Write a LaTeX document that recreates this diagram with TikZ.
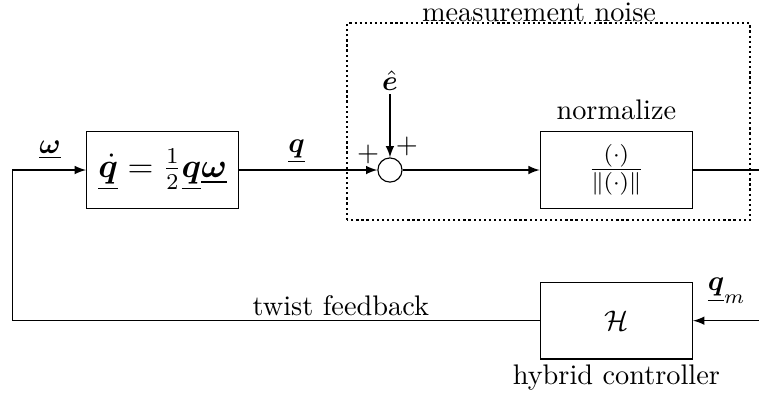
\documentclass[tikz,border=0pt]{standalone}
\usepackage{amsmath,bm}
\usetikzlibrary{arrows}
\tikzset{
    blk/.style={draw, minimum width=1.89cm, minimum height=0.95cm},
    sumnode/.style={draw, circle, minimum size=0.3cm, inner sep=0pt},
}
\begin{document}
\begin{tikzpicture}[>=latex]
    \useasboundingbox (0,0) rectangle (9.42,4.96);
    % blocks
    \node[blk, font=\large] (kin) at (2.02,2.85) {$\underline{\dot{\bm q}} = \tfrac{1}{2}\underline{\bm q}\underline{\bm\omega}$};
    \node[sumnode] (sum) at (4.84,2.85) {};
    \node[blk, font=\large] (norm) at (7.65,2.85) {$\frac{(\cdot)}{\|(\cdot)\|}$};
    \node[blk] (ctrl) at (7.65,0.98) {$\mathcal{H}$};
    \node[inner sep=1pt] (noise) at (4.84,3.96) {$\hat{\bm e}$};
    \coordinate (out) at (9.42,2.85);
    \coordinate (qm) at (9.42,0.98);
    \coordinate (fbl) at (0.15,0.98);
    \coordinate (fbu) at (0.15,2.85);
    % measurement noise box
    \draw[densely dotted, thick] (4.31,2.23) rectangle (9.31,4.67);
    \node (mlabel) at (6.69,4.81) {measurement noise};
    \node (nlabel) at (7.65,3.60) {normalize};
    \node (hlabel) at (7.65,0.27) {hybrid controller};
    % signals
    \draw[->] (kin) -- (sum);
    \draw[->] (noise) -- (sum);
    \draw[->] (sum) -- (norm);
    \draw (norm) -- (out);
    \draw[->] (qm) -- (ctrl);
    \draw (ctrl) -- (fbl) -- (fbu);
    \draw[->] (fbu) -- (kin);
    \node (wlabel) at (0.62,3.10) {$\underline{\bm\omega}$};
    \node (qlabel) at (3.68,3.08) {$\underline{\bm q}$};
    \node (qmlabel) at (9.02,1.35) {$\underline{\bm q}_m$};
    \node (tlabel) at (4.23,1.17) {twist feedback};
    \node (p1) at (4.57,3.04) {$+$};
    \node (p2) at (5.05,3.14) {$+$};
\end{tikzpicture}
\end{document}
